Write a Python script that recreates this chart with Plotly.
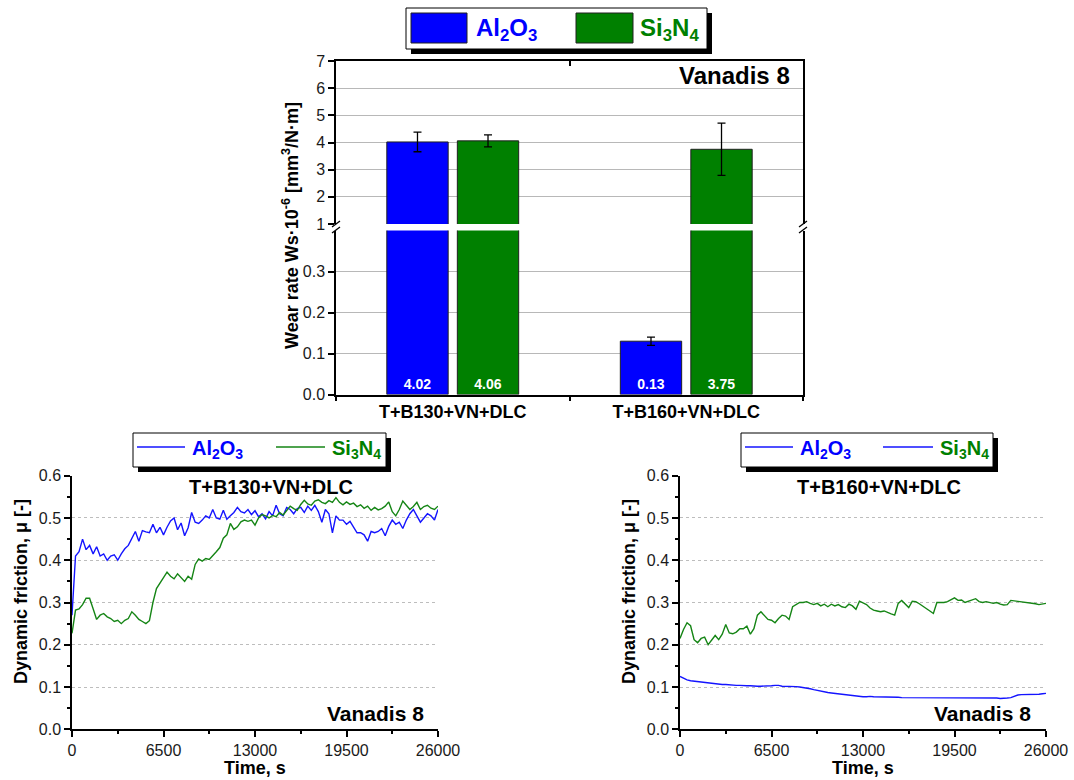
import plotly.graph_objects as go

OFF = 0
W, H = 1074, 780


def fx(p):
    return (p - OFF) / W


def fy(p):
    return 1 - (p - OFF) / H


FONT = "Liberation Sans, Arial, Helvetica, sans-serif"
BLUE = "#0000FF"
GREEN = "#008000"
LBLUE = "#1414FF"
LGREEN = "#158515"

# ---------------- wear-rate data ----------------
coatings = ["T+B130+VN+DLC", "T+B160+VN+DLC"]
wear_al2o3 = [4.02, 0.13]
wear_si3n4 = [4.06, 3.75]
err_al2o3 = [0.36, 0.01]
err_si3n4 = [0.22, 0.96]

# ---------------- friction data ----------------
time_s = list(range(0, 26001, 250))

mu_b130_al2o3 = [
    0.27, 0.41, 0.42, 0.45, 0.425, 0.435, 0.415, 0.432, 0.41, 0.415,
    0.40, 0.41, 0.413, 0.40, 0.415, 0.427, 0.435, 0.45, 0.468, 0.445,
    0.47, 0.467, 0.465, 0.485, 0.465, 0.478, 0.46, 0.478, 0.493, 0.50,
    0.472, 0.488, 0.458, 0.477, 0.513, 0.49, 0.487, 0.495, 0.505, 0.50,
    0.52, 0.50, 0.497, 0.518, 0.497, 0.505, 0.513, 0.525, 0.515, 0.512,
    0.52, 0.508, 0.517, 0.503, 0.51, 0.498, 0.515, 0.505, 0.53, 0.51,
    0.505, 0.525, 0.52, 0.51, 0.522, 0.525, 0.513, 0.528, 0.518, 0.53,
    0.515, 0.49, 0.52, 0.51, 0.465, 0.505, 0.495, 0.495, 0.485, 0.492,
    0.48, 0.465, 0.465, 0.46, 0.445, 0.468, 0.465, 0.468, 0.475, 0.458,
    0.48, 0.495, 0.485, 0.49, 0.475, 0.495, 0.51, 0.52, 0.505, 0.49,
    0.50, 0.51, 0.505, 0.495, 0.52,
]

mu_b130_si3n4 = [
    0.227, 0.282, 0.285, 0.295, 0.31, 0.31, 0.285, 0.26, 0.27, 0.274,
    0.266, 0.262, 0.255, 0.258, 0.25, 0.258, 0.262, 0.278, 0.27, 0.26,
    0.255, 0.25, 0.257, 0.30, 0.333, 0.345, 0.36, 0.372, 0.362, 0.356,
    0.368, 0.36, 0.35, 0.362, 0.355, 0.39, 0.403, 0.398, 0.404, 0.402,
    0.41, 0.42, 0.43, 0.452, 0.46, 0.487, 0.473, 0.479, 0.491, 0.495,
    0.492, 0.495, 0.483, 0.50, 0.508, 0.505, 0.50, 0.506, 0.503, 0.513,
    0.507, 0.518, 0.528, 0.522, 0.518, 0.532, 0.542, 0.533, 0.53, 0.54,
    0.543, 0.537, 0.534, 0.541, 0.537, 0.548, 0.537, 0.531, 0.538, 0.532,
    0.535, 0.527, 0.531, 0.523, 0.528, 0.518, 0.525, 0.519, 0.522, 0.528,
    0.538, 0.515, 0.505, 0.52, 0.54, 0.53, 0.52, 0.527, 0.537, 0.52,
    0.527, 0.53, 0.523, 0.52, 0.528,
]

mu_b160_al2o3 = [
    0.125, 0.12, 0.117, 0.115, 0.114, 0.113, 0.111, 0.11, 0.109, 0.108,
    0.107, 0.107, 0.106, 0.106, 0.105, 0.105, 0.104, 0.104, 0.103, 0.103,
    0.103, 0.102, 0.102, 0.102, 0.102, 0.103, 0.103, 0.104, 0.104, 0.102,
    0.102, 0.101, 0.101, 0.101, 0.10, 0.099, 0.098, 0.096, 0.094, 0.092,
    0.09, 0.089, 0.087, 0.086, 0.085, 0.083, 0.082, 0.081, 0.08, 0.079,
    0.078, 0.077, 0.077, 0.077, 0.078, 0.077, 0.077, 0.076, 0.076, 0.076,
    0.076, 0.076, 0.076, 0.075, 0.075, 0.075, 0.075, 0.075, 0.074, 0.074,
    0.074, 0.074, 0.074, 0.074, 0.074, 0.074, 0.074, 0.074, 0.074, 0.074,
    0.074, 0.074, 0.074, 0.074, 0.075, 0.075, 0.074, 0.074, 0.074, 0.074,
    0.074, 0.073, 0.073, 0.074, 0.075, 0.078, 0.081, 0.082, 0.082, 0.082,
    0.083, 0.083, 0.083, 0.084, 0.085,
]

mu_b160_si3n4 = [
    0.215, 0.236, 0.252, 0.245, 0.212, 0.205, 0.215, 0.218, 0.20, 0.21,
    0.222, 0.212, 0.225, 0.248, 0.228, 0.226, 0.23, 0.238, 0.238, 0.244,
    0.225, 0.238, 0.27, 0.278, 0.27, 0.26, 0.258, 0.252, 0.262, 0.27,
    0.268, 0.26, 0.29, 0.295, 0.30, 0.30, 0.302, 0.298, 0.295, 0.298,
    0.292, 0.296, 0.29, 0.296, 0.292, 0.295, 0.29, 0.288, 0.296, 0.292,
    0.284, 0.303, 0.298, 0.295, 0.287, 0.282, 0.28, 0.278, 0.28, 0.276,
    0.273, 0.27, 0.298, 0.305, 0.296, 0.288, 0.303, 0.302, 0.297, 0.292,
    0.285, 0.28, 0.274, 0.30, 0.30, 0.30, 0.302, 0.307, 0.311, 0.305,
    0.306, 0.30, 0.303, 0.306, 0.309, 0.302, 0.30, 0.302, 0.30, 0.298,
    0.30, 0.296, 0.294, 0.295, 0.305, 0.304, 0.302, 0.302, 0.30, 0.299,
    0.298, 0.297, 0.295, 0.297, 0.298,
]

time_ticks = [0, 6500, 13000, 19500, 26000]
time_tick_text = ["0", "6500", "13000", "19500", "26000"]
time_minor = [3250, 9750, 16250, 22750]

fig = go.Figure()

# ---------------- bar chart (broken axis: lower y / upper y2) ----------------
for xa, ya, lower in (("x", "y", True), ("x2", "y2", False)):
    for name, vals, errs, col in (("Al2O3", wear_al2o3, err_al2o3, BLUE),
                                  ("Si3N4", wear_si3n4, err_si3n4, GREEN)):
        fig.add_trace(go.Bar(
            x=coatings, y=vals, name=name, offsetgroup=name,
            xaxis=xa, yaxis=ya, showlegend=False,
            marker=dict(color=col, line=dict(color="#202020", width=1)),
            error_y=dict(type="data", array=errs, color="black",
                         thickness=1.3, width=4),
            texttemplate="%{y:.2f}" if lower else None,
            textposition="inside" if lower else "none",
            insidetextanchor="start", textangle=0, constraintext="none",
            textfont=dict(family=FONT, size=14, color="white", weight="bold"),
        ))

# ---------------- friction curves ----------------
fig.add_trace(go.Scatter(x=time_s, y=mu_b130_al2o3, mode="lines", xaxis="x3", yaxis="y3",
                         line=dict(color=LBLUE, width=1.4), showlegend=False))
fig.add_trace(go.Scatter(x=time_s, y=mu_b130_si3n4, mode="lines", xaxis="x3", yaxis="y3",
                         line=dict(color=LGREEN, width=1.4), showlegend=False))
fig.add_trace(go.Scatter(x=time_s, y=mu_b160_al2o3, mode="lines", xaxis="x4", yaxis="y4",
                         line=dict(color=LBLUE, width=1.4), showlegend=False))
fig.add_trace(go.Scatter(x=time_s, y=mu_b160_si3n4, mode="lines", xaxis="x4", yaxis="y4",
                         line=dict(color=LGREEN, width=1.4), showlegend=False))

tickfont = dict(family=FONT, size=16, color="#1a1a1a")
common = dict(showline=True, linecolor="black", linewidth=1.5, ticks="outside",
              tickcolor="black", tickwidth=1.5, ticklen=6, tickfont=tickfont,
              zeroline=False, automargin=False)

bar_x = [fx(336), fx(803)]
fig.update_layout(
    width=W, height=H, autosize=False,
    margin=dict(l=0, r=0, t=0, b=0, pad=0),
    paper_bgcolor="white", plot_bgcolor="white",
    barmode="group", bargap=0.396, bargroupgap=0.13,
    font=dict(family=FONT, color="black"),
    xaxis=dict(common, domain=bar_x, anchor="y", type="category", range=[-0.5, 1.5],
               tickson="boundaries", ticklen=5, showgrid=False,
               tickfont=dict(family=FONT, size=18, color="black", weight="bold")),
    xaxis2=dict(common, domain=bar_x, anchor="y2", matches="x", type="category",
                side="top", showticklabels=False, ticks="inside", tickson="boundaries",
                ticklen=5, showgrid=False),
    yaxis=dict(common, domain=[fy(394.5), fy(230.5)], anchor="x", range=[0, 0.4],
               tickvals=[0, 0.1, 0.2, 0.3], tickformat=".1f", mirror=True,
               showgrid=True, gridcolor="#b8b8b8", gridwidth=1),
    yaxis2=dict(common, domain=[fy(224), fy(61)], anchor="x2", range=[1, 7],
                tickvals=[1, 2, 3, 4, 5, 6, 7], mirror=True,
                showgrid=True, gridcolor="#b8b8b8", gridwidth=1),
)

minor_y = dict(dtick=0.05, ticks="outside", ticklen=3, tickcolor="black", tickwidth=1.5)
minor_x = dict(tickvals=time_minor, ticks="outside", ticklen=3, tickcolor="black", tickwidth=1.5)
for i, (x0, x1) in ((3, (72, 438)), (4, (680, 1046))):
    fig.update_layout({
        f"xaxis{i}": dict(common, domain=[fx(x0), fx(x1)], anchor=f"y{i}", range=[0, 26000],
                          tickvals=time_ticks, ticktext=time_tick_text, minor=minor_x,
                          showgrid=False),
        f"yaxis{i}": dict(common, domain=[fy(729.3), fy(475.7)], anchor=f"x{i}", range=[0, 0.6],
                          dtick=0.1, tickformat=".1f", minor=minor_y,
                          showgrid=True, griddash="dot", gridcolor="#bdbdbd", gridwidth=1),
    })

shapes = []
annotations = []


def rect(x0, y0, x1, y1, fill, line_col=None, lw=1):
    shapes.append(dict(type="rect", xref="paper", yref="paper",
                       x0=fx(x0), x1=fx(x1), y0=fy(y1), y1=fy(y0),
                       fillcolor=fill, line=dict(color=line_col or fill, width=lw if line_col else 0)))


def hline(x0, x1, y, col, w=1.5):
    shapes.append(dict(type="line", xref="paper", yref="paper",
                       x0=fx(x0), x1=fx(x1), y0=fy(y), y1=fy(y), line=dict(color=col, width=w)))


def seg(x0, y0, x1, y1, col="black", w=1.3):
    shapes.append(dict(type="line", xref="paper", yref="paper",
                       x0=fx(x0), x1=fx(x1), y0=fy(y0), y1=fy(y1), line=dict(color=col, width=w)))


def text(x, y, s, size, color="black", xanchor="center", angle=0, bold=True):
    annotations.append(dict(xref="paper", yref="paper", x=fx(x), y=fy(y), text=s,
                            showarrow=False, xanchor=xanchor, yanchor="middle",
                            textangle=angle,
                            font=dict(family=FONT, size=size, color=color,
                                      weight="bold" if bold else "normal")))


AL = "Al<sub>2</sub>O<sub>3</sub>"
SI = "Si<sub>3</sub>N<sub>4</sub>"

# top legend
rect(411, 13, 712, 54, "black")
rect(406, 8, 707, 49, "white", "black", 1)
rect(411, 13, 467, 43, BLUE, "#202020", 1)
rect(576, 13, 633, 43, GREEN, "#202020", 1)
text(474, 30, AL, 24, BLUE, "left")
text(638, 30, SI, 24, GREEN, "left")

# bottom-left legend
rect(138, 438, 391, 472, "black")
rect(133, 433, 386, 467, "white", "black", 1)
hline(137, 185, 447, LBLUE)
hline(276, 325, 447, LGREEN)
text(190, 450, AL, 20, BLUE, "left")
text(330, 450, SI, 20, GREEN, "left")

# bottom-right legend (original uses a blue swatch for Si3N4)
rect(746, 438, 998, 472, "black")
rect(741, 433, 993, 467, "white", "black", 1)
hline(745, 793, 447, LBLUE)
hline(883, 933, 447, LBLUE)
text(798, 450, AL, 20, BLUE, "left")
text(938, 450, SI, 20, GREEN, "left")

# axis-break marks
for bx in (336, 803):
    seg(bx - 4, 227, bx + 4, 221)
    seg(bx - 4, 233, bx + 4, 227)

# titles and labels
text(792, 76, "Vanadis 8", 24, "black", "right")
text(290, 226, "Wear rate Ws·10<sup>-6</sup> [mm<sup>3</sup>/N·m]", 18, angle=-90)
text(271, 487, "T+B130+VN+DLC", 20)
text(879, 487, "T+B160+VN+DLC", 20)
text(426, 713, "Vanadis 8", 21, "black", "right")
text(1033, 713, "Vanadis 8", 21, "black", "right")
text(21, 592, "Dynamic friction, μ [-]", 18, angle=-90)
text(629, 592, "Dynamic friction, μ [-]", 18, angle=-90)
text(255, 768, "Time, s", 18)
text(863, 768, "Time, s", 18)

fig.update_layout(shapes=shapes, annotations=annotations)
fig.write_html(
    "out.html",
    config={"displayModeBar": False},
    post_script="document.body.style.margin='0';document.body.style.overflow='hidden';",
)
